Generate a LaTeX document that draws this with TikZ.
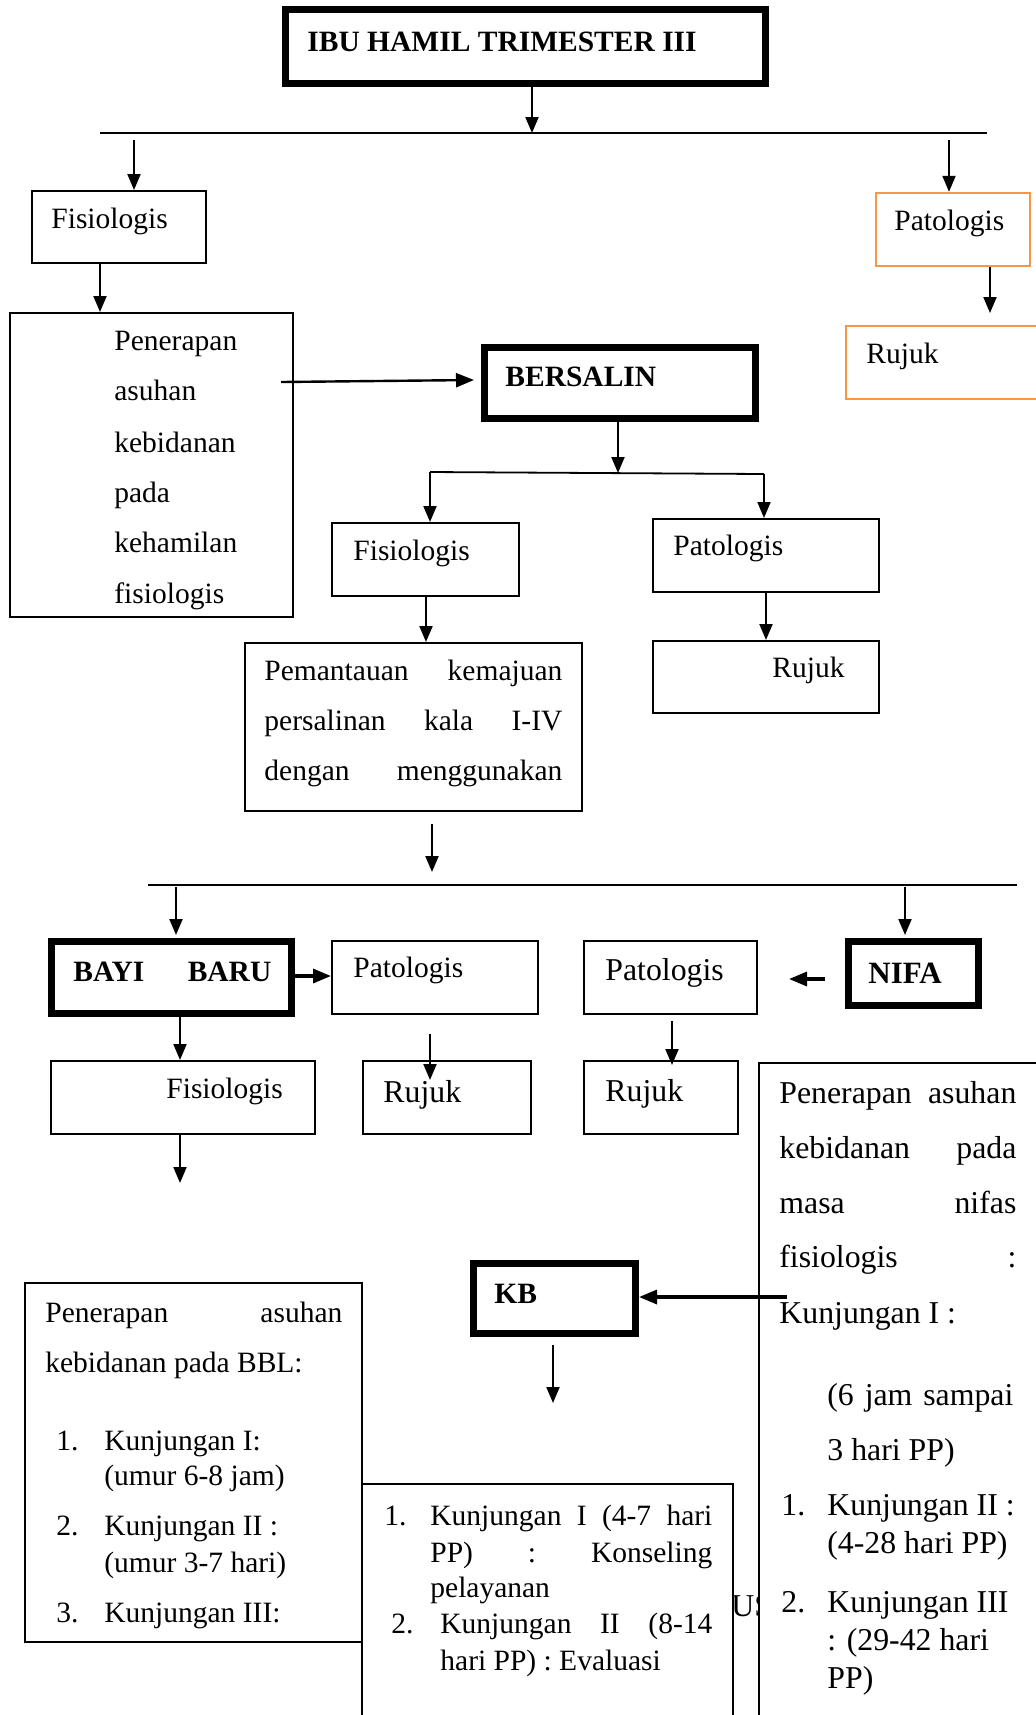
\documentclass[tikz,border=0pt]{standalone}
\usepackage{fontspec}
\setmainfont{Liberation Serif}
\usetikzlibrary{fit,arrows.meta}
\definecolor{boxorange}{RGB}{247,150,70}
\begin{document}
\begin{tikzpicture}[x=0.5pt,y=-0.5pt,
  thinbox/.style={draw=black, line width=1pt, inner sep=0pt},
  thickbox/.style={draw=black, line width=3.5pt, inner sep=0pt},
  orangebox/.style={draw=boxorange, line width=1.2pt, inner sep=0pt},
  txt/.style={anchor=base west, inner sep=0pt, font=\fontsize{14.75pt}{17pt}\selectfont},
  bigtxt/.style={anchor=base west, inner sep=0pt, font=\fontsize{15.9pt}{18pt}\selectfont},
  boldtxt/.style={anchor=base west, inner sep=0pt, font=\fontsize{14.75pt}{17pt}\selectfont\bfseries},
  arr/.style={line width=1pt, -{Triangle[length=8pt,width=6.5pt]}},
  thickarr/.style={line width=1.6pt, -{Triangle[length=9pt,width=7pt]}},
  plain/.style={line width=0.9pt},
]
\useasboundingbox (0,0) rectangle (1035,1715);
\fill[white] (0,0) rectangle (1035,1715);

% ---------- boxes ----------
\node[thickbox, fit={(285.5,9.5) (765.5,83.5)}] (b0) {};
\node[thinbox, fit={(32,191) (206,263)}] (b1) {};
\node[orangebox, fit={(876,193) (1030,266)}] (b2) {};
\node[thinbox, fit={(10,313) (293,617)}] (b3) {};
\node[orangebox, fit={(846,326) (1050,399)}] (b4) {};
\node[thickbox, fit={(484.5,347.5) (755.5,418.5)}] (b5) {};
\node[thinbox, fit={(332,523) (519,596)}] (b6) {};
\node[thinbox, fit={(653,519) (879,592)}] (b7) {};
\node[thinbox, fit={(245,643) (582,811)}] (b8) {};
\node[thinbox, fit={(653,641) (879,713)}] (b9) {};
\node[thickbox, fit={(51.5,941.5) (291.5,1013.5)}] (b10) {};
\node[thinbox, fit={(332,941) (538,1014)}] (b11) {};
\node[thinbox, fit={(584,941) (757,1014)}] (b12) {};
\node[thickbox, fit={(848.5,941.5) (978.5,1005.5)}] (b13) {};
\node[thinbox, fit={(51,1061) (315,1134)}] (b14) {};
\node[thinbox, fit={(363,1061) (531,1134)}] (b15) {};
\node[thinbox, fit={(584,1061) (738,1134)}] (b16) {};
\node[thickbox, fit={(473.5,1263.5) (635.5,1333.5)}] (b18) {};
\node[thinbox, fit={(25,1283) (362,1642)}] (b19) {};
\node[thinbox, fit={(362,1484) (732.5,1730)}] (b20) {};

% ---------- texts ----------
\node[boldtxt] (t0) at (307,51) {IBU HAMIL TRIMESTER III};
\node[txt] (t1) at (51,228) {Fisiologis};
\node[txt] (t2) at (894,230) {Patologis};
\node[txt] (t3a) at (114,350) {Penerapan};
\node[txt] (t3b) at (114,400) {asuhan};
\node[txt] (t3c) at (114,452) {kebidanan};
\node[txt] (t3d) at (114,502) {pada};
\node[txt] (t3e) at (114,552) {kehamilan};
\node[txt] (t3f) at (114,603) {fisiologis};
\node[txt] (t4) at (866,363) {Rujuk};
\node[boldtxt] (t5) at (505,386) {BERSALIN};
\node[txt] (t6) at (353,560) {Fisiologis};
\node[txt] (t7) at (673,555) {Patologis};
\node[txt] (t8a) at (264,680) {\makebox[149pt][s]{Pemantauan kemajuan}};
\node[txt] (t8b) at (264,730) {\makebox[149pt][s]{persalinan kala I-IV}};
\node[txt] (t8c) at (264,780) {\makebox[149pt][s]{dengan menggunakan}};
\node[txt] (t9) at (772,677) {Rujuk};
\node[boldtxt] (t10) at (73,981) {\makebox[99pt][s]{BAYI BARU}};
\node[txt] (t11) at (353,977) {Patologis};
\node[bigtxt] (t12) at (605,980) {Patologis};
\node[bigtxt, font=\fontsize{15.5pt}{18pt}\selectfont\bfseries] (t13) at (868,983) {NIFA};
\node[txt] (t14) at (166,1098) {Fisiologis};
\node[bigtxt] (t15) at (383,1102) {Rujuk};
\node[bigtxt] (t16) at (605,1101) {Rujuk};
\node[boldtxt] (t18) at (494,1303) {KB};

\node[txt] (t19a) at (45,1322) {\makebox[148.5pt][s]{Penerapan asuhan}};
\node[txt] (t19b) at (45,1372) {kebidanan pada BBL:};
\node[txt] (t19c) at (56,1450) {1.};
\node[txt] (t19d) at (104,1450) {Kunjungan I:};
\node[txt] (t19e) at (104,1485) {(umur 6-8 jam)};
\node[txt] (t19f) at (56,1535) {2.};
\node[txt] (t19g) at (104,1535) {Kunjungan II :};
\node[txt] (t19h) at (104,1572) {(umur 3-7 hari)};
\node[txt] (t19i) at (56,1622) {3.};
\node[txt] (t19j) at (104,1622) {Kunjungan III:};

\node[txt] (t20a) at (384,1525) {1.};
\node[txt] (t20b) at (430,1525) {\makebox[141pt][s]{Kunjungan I (4-7 hari}};
\node[txt] (t20c) at (430,1562) {\makebox[141pt][s]{PP) : Konseling}};
\node[txt] (t20d) at (430,1597) {pelayanan};
\node[txt] (t20e) at (391,1633) {2.};
\node[txt] (t20f) at (440,1633) {\makebox[136pt][s]{Kunjungan II (8-14}};
\node[txt] (t20g) at (440,1670) {hari PP) : Evaluasi};

\node[bigtxt] (tus) at (731,1616) {US};

% big nifa box (covers the text behind it)
\node[thinbox, fill=white, fit={(758.5,1063) (1050,1730)}] (b17) {};
\node[bigtxt] (t17a) at (779,1103) {\makebox[118.5pt][s]{Penerapan asuhan}};
\node[bigtxt] (t17b) at (779,1158) {\makebox[118.5pt][s]{kebidanan pada}};
\node[bigtxt] (t17c) at (779,1213) {\makebox[118.5pt][s]{masa nifas}};
\node[bigtxt] (t17d) at (779,1267) {\makebox[118.5pt][s]{fisiologis :}};
\node[bigtxt] (t17e) at (779,1323) {Kunjungan I :};
\node[bigtxt] (t17f) at (827,1405) {\makebox[93pt][s]{(6 jam sampai}};
\node[bigtxt] (t17g) at (827,1460) {3 hari PP)};
\node[bigtxt] (t17h) at (781,1515) {1.};
\node[bigtxt] (t17i) at (827,1515) {Kunjungan II :};
\node[bigtxt] (t17j) at (827,1553) {(4-28 hari PP)};
\node[bigtxt] (t17k) at (781,1612) {2.};
\node[bigtxt] (t17l) at (827,1612) {Kunjungan III};
\node[bigtxt] (t17m) at (827,1650) {: (29-42 hari};
\node[bigtxt] (t17n) at (827,1688) {PP)};

% ---------- connectors ----------
\coordinate (l1a) at (100,133);
\coordinate (l1b) at (987,133);
\draw[plain] (l1a) -- (l1b);
\draw[arr] (532,0 |- b0.south) -- (532,0 |- l1a);
\coordinate (a2s) at (134,140);
\draw[arr] (a2s) -- (a2s |- b1.north);
\coordinate (a3s) at (949,140);
\draw[arr] (a3s) -- (a3s |- b2.north);
\draw[arr] (100,0 |- b1.south) -- (100,0 |- b3.north);
\coordinate (a5e) at (990,313);
\draw[arr] (990,0 |- b2.south) -- (a5e);
\coordinate (a6s) at (281,382);
\coordinate (a6e) at (474,380);
\draw[thickarr, line width=1.2pt] (a6s) -- (a6e);

\coordinate (l2a) at (430,472);
\coordinate (l2b) at (764,474);
\coordinate (l2m) at (618,473);
\draw[plain] (l2a) -- (l2b);
\draw[arr] (618,0 |- b5.south) -- (l2m);
\draw[arr] (l2a) -- (l2a |- b6.north);
\draw[arr] (l2b) -- (l2b |- b7.north);
\draw[arr] (426,0 |- b6.south) -- (426,0 |- b8.north);
\draw[arr] (766,0 |- b7.south) -- (766,0 |- b9.north);
\coordinate (a12s) at (432,824);
\coordinate (a12e) at (432,872);
\draw[arr] (a12s) -- (a12e);

\coordinate (l3a) at (148,885);
\coordinate (l3b) at (1017,885);
\draw[plain] (l3a) -- (l3b);
\coordinate (a13s) at (176,887);
\draw[arr] (a13s) -- (176,935);
\coordinate (a14s) at (905,887);
\draw[arr] (a14s) -- (905,935);
\draw[thickarr] (b10.east |- 0,976) -- (b11.west |- 0,976);
\coordinate (a16s) at (825,979);
\coordinate (a16e) at (789,979);
\draw[thickarr] (a16s) -- (a16e);
\draw[arr] (180,0 |- b10.south) -- (180,0 |- b14.north);
\coordinate (a18s) at (430,1034);
\coordinate (a18e) at (430,1080);
\draw[arr] (a18s) -- (a18e);
\coordinate (a19s) at (672,1021);
\coordinate (a19e) at (672,1065);
\draw[arr] (a19s) -- (a19e);
\coordinate (a20e) at (180,1183);
\draw[arr] (180,0 |- b14.south) -- (a20e);
\coordinate (a21s) at (787,1297);
\draw[thickarr] (a21s) -- (b18.east |- a21s);
\coordinate (a22s) at (553,1345);
\coordinate (a22e) at (553,1403);
\draw[arr] (a22s) -- (a22e);
\end{tikzpicture}
\end{document}
